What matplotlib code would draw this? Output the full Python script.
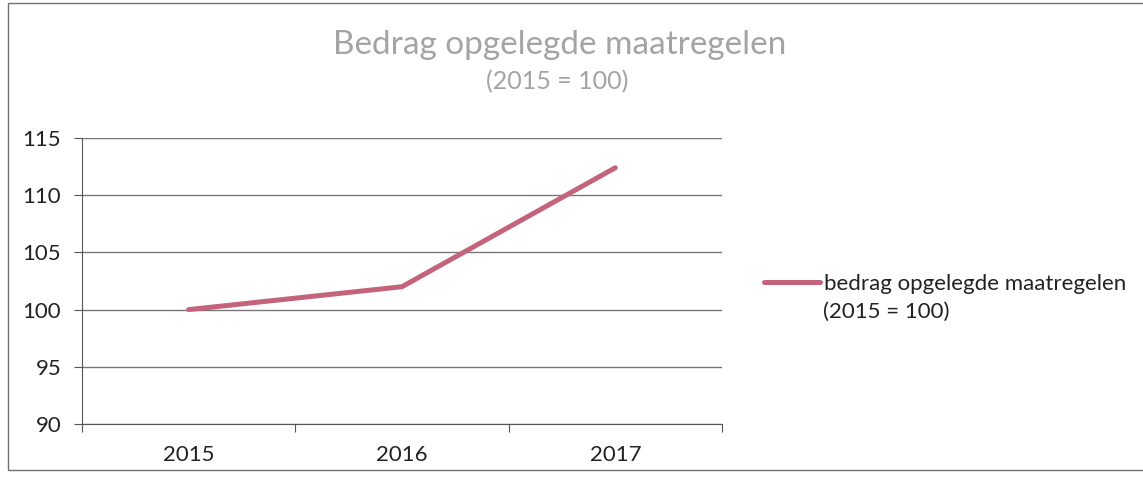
import matplotlib.pyplot as plt
from matplotlib.patches import Rectangle

# data
years = ['2015', '2016', '2017']
values = [100, 102.0, 112.4]
yticks = [90, 95, 100, 105, 110, 115]

plt.rcParams['font.family'] = ['Lato', 'DejaVu Sans']

W, H = 1143, 482
fig = plt.figure(figsize=(W / 100, H / 100), dpi=100)
fig.patch.set_facecolor('white')

# chart border
fig.patches.append(Rectangle((8 / W, 1 - 470 / H), 1.2, 467 / H, transform=fig.transFigure,
                             fill=False, edgecolor='#707070', linewidth=1.0))

ax = fig.add_axes([82 / W, 1 - 424 / H, 640 / W, (424 - 138) / H])
x = range(len(years))
ax.plot(x, values, color='#c4647c', linewidth=3.6, solid_capstyle='round',
        label='bedrag opgelegde maatregelen')

ax.set_xlim(-0.5, 2.5)
ax.set_ylim(90, 115)
ax.set_yticks(yticks)
ax.set_xticks([-0.5, 0.5, 1.5, 2.5])
ax.set_xticklabels([])
ax.set_xticks(list(x), minor=True)
ax.set_xticklabels(years, minor=True)
ax.tick_params(axis='x', which='minor', length=0, pad=15, labelsize=16, colors='#222222')
ax.tick_params(axis='x', which='major', length=6, direction='out', color='#555555')
ax.tick_params(axis='y', length=6, direction='out', color='#555555', labelsize=16,
               labelcolor='#222222', pad=9)
ax.grid(axis='y', color='#777777', linewidth=1)
ax.set_axisbelow(True)
for s in ['top', 'right']:
    ax.spines[s].set_visible(False)
ax.spines['left'].set_color('#555555')
ax.spines['bottom'].set_color('#555555')

fig.text(560 / W, 1 - 45 / H, 'Bedrag opgelegde maatregelen', ha='center', va='center',
         fontsize=24, color='#a4a4a4')
fig.text(557 / W, 1 - 82 / H, '(2015 = 100)', ha='center', va='center',
         fontsize=18, color='#a4a4a4')

leg = fig.legend(loc='center left', bbox_to_anchor=(764 / W, 1 - 284 / H), frameon=False,
                 fontsize=16, handlelength=2.5, handletextpad=0.2, borderpad=0,
                 borderaxespad=0)
for t in leg.get_texts():
    t.set_color('#222222')
fig.text(823 / W, 1 - 312 / H, '(2015 = 100)', ha='left', va='center',
         fontsize=16, color='#222222')

fig.savefig('out.png', dpi=100)
